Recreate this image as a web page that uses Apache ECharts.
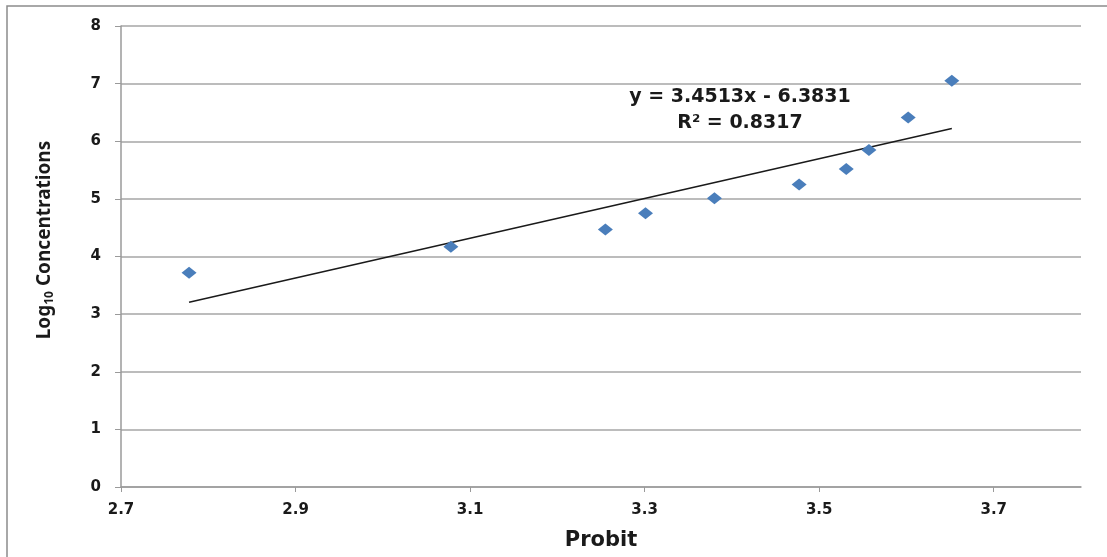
<!DOCTYPE html>
<html>
<head>
<meta charset="utf-8">
<title>Probit vs Log10 Concentrations</title>
<script src="https://cdn.jsdelivr.net/npm/echarts@6/dist/echarts.min.js"></script>
<style>
    html, body { margin: 0; padding: 0; background: #fff; }
    #chart { width: 1107px; height: 557px; }
</style>
</head>
<body>
<div id="chart"></div>
<script>
    // data
    var probit = [2.778, 3.078, 3.255, 3.301, 3.380, 3.477, 3.531, 3.557, 3.602, 3.652];
    var logConc = [3.72, 4.17, 4.47, 4.75, 5.01, 5.25, 5.52, 5.85, 6.41, 7.05];
    var xTicks = [2.7, 2.9, 3.1, 3.3, 3.5, 3.7];
    // trend line as printed on the chart
    var slope = 3.4513;
    var intercept = -6.3831;

    var points = probit.map(function (x, i) { return [x, logConc[i]]; });
    var xMin = Math.min.apply(null, probit);
    var xMax = Math.max.apply(null, probit);
    var trend = [[xMin, slope * xMin + intercept], [xMax, slope * xMax + intercept]];

    var font = '"DejaVu Sans", sans-serif';
    var titleFont = '"Noto Sans", "Open Sans", sans-serif';
    var chart = echarts.init(document.getElementById('chart'));

    var option = {
        animation: false,
        grid: { left: 121, top: 26, right: 26, bottom: 70 },
        xAxis: {
            type: 'value',
            min: 2.7,
            max: 3.8,
            name: 'Probit',
            nameLocation: 'middle',
            nameGap: 43,
            nameTextStyle: { fontFamily: font, fontWeight: 'bold', fontSize: 21, color: '#1a1a1a' },
            axisLine: { show: true, lineStyle: { color: '#9a9a9a', width: 1.5 } },
            axisTick: { show: true, length: 5, customValues: xTicks, lineStyle: { color: '#9a9a9a' } },
            axisLabel: {
                customValues: xTicks,
                margin: 16,
                fontFamily: font, fontWeight: 'bold', fontSize: 15, color: '#1a1a1a',
                formatter: function (v) { return v.toFixed(1); }
            },
            splitLine: { show: false }
        },
        yAxis: {
            type: 'value',
            min: 0,
            max: 8,
            interval: 1,
            axisLine: { show: true, lineStyle: { color: '#9a9a9a', width: 1.5 } },
            axisTick: { show: true, length: 6, lineStyle: { color: '#9a9a9a' } },
            axisLabel: { margin: 20, fontFamily: font, fontWeight: 'bold', fontSize: 15, color: '#1a1a1a' },
            splitLine: { show: true, lineStyle: { color: '#a6a6a6', width: 1.5 } }
        },
        graphic: [
            {
                type: 'rect',
                shape: { x: 7, y: 6, width: 1200, height: 700 },
                style: { fill: 'none', stroke: '#8c8c8c', lineWidth: 1.5 },
                silent: true
            },
            {
                // y axis title, rotated
                type: 'text',
                x: 45, y: 240,
                rotation: Math.PI / 2,
                style: {
                    text: '{a|Log}{b|10}{a| Concentrations}',
                    align: 'center',
                    verticalAlign: 'middle',
                    rich: {
                        a: { fontFamily: titleFont, fontWeight: 'bold', fontSize: 19, fill: '#1a1a1a' },
                        b: { fontFamily: titleFont, fontWeight: 'bold', fontSize: 12, fill: '#1a1a1a', padding: [9, 0, 0, 0] }
                    }
                }
            },
            {
                type: 'text',
                x: 740, y: 97,
                style: { text: 'y = 3.4513x - 6.3831', align: 'center', verticalAlign: 'middle', fontFamily: font, fontWeight: 'bold', fontSize: 19, fill: '#1a1a1a' }
            },
            {
                type: 'text',
                x: 740, y: 123,
                style: { text: 'R\u00b2 = 0.8317', align: 'center', verticalAlign: 'middle', fontFamily: font, fontWeight: 'bold', fontSize: 19, fill: '#1a1a1a' }
            }
        ],
        series: [
            {
                type: 'line',
                data: trend,
                symbol: 'none',
                lineStyle: { color: '#1a1a1a', width: 1.5 },
                z: 2
            },
            {
                type: 'scatter',
                data: points,
                symbol: 'diamond',
                symbolSize: [15, 12],
                itemStyle: { color: '#4a7ebb', opacity: 1 },
                z: 3
            }
        ]
    };

    chart.setOption(option);
</script>
</body>
</html>
